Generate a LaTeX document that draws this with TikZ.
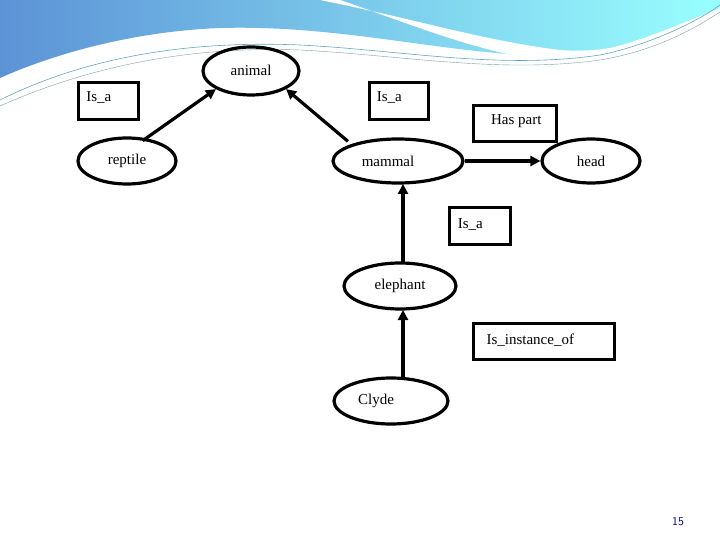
\documentclass[tikz,border=0pt]{standalone}
\usepackage{fontspec}
\setmainfont{Liberation Serif}
\usetikzlibrary{arrows.meta,shapes.geometric}
\begin{document}
\begin{tikzpicture}[x=1pt,y=-1pt,
  ell/.style={draw,line width=3.2pt,ellipse,minimum width=#1,minimum height=46pt,inner sep=0pt,font=\fontsize{15}{17}\selectfont},
  ell/.default=98pt,
  lbl/.style={draw,line width=3pt,rectangle,anchor=north west,font=\fontsize{15}{17}\selectfont,inner sep=0pt,align=left},
  arr/.style={line width=3.2pt,-{Triangle[length=10pt,width=10pt]}}]
\useasboundingbox (0,0) rectangle (720,540);
\fill[white] (0,0) rectangle (720,540);
% top decoration
\shade[left color=cyan!45!blue!60!gray!80, right color=cyan!40] (0,0) -- (720,0) -- (720,8)
  .. controls (640,40) and (600,60) .. (520,55)
  .. controls (420,48) and (330,25) .. (220,28)
  .. controls (120,32) and (40,60) .. (0,78) -- cycle;
\fill[white] (320,0) .. controls (420,20) and (480,40) .. (560,50)
  .. controls (620,55) and (680,30) .. (720,20) -- (720,30)
  .. controls (660,58) and (600,65) .. (540,60)
  .. controls (470,50) and (400,20) .. (340,0) -- cycle;
\draw[cyan!50!gray,line width=0.6pt] (0,100) .. controls (80,60) and (180,40) .. (300,45) .. controls (400,50) and (500,70) .. (600,55) .. controls (650,45) and (700,20) .. (720,5);
\draw[cyan!30!gray,line width=0.4pt] (0,106) .. controls (90,66) and (190,46) .. (300,50) .. controls (400,55) and (500,74) .. (600,60) .. controls (660,50) and (700,25) .. (720,12);
% nodes
\node[ell=96pt,minimum height=48pt] (animal) at (251,71) {\raisebox{2pt}{animal}};
\node[ell] (reptile) at (127,161) {reptile};
\node[ell=130pt,minimum height=44pt] (mammal) at (398,161) {\hspace*{-20pt}mammal};
\node[ell,minimum height=44pt] (head) at (591,161) {head};
\node[ell=112pt] (elephant) at (400,286) {elephant};
\node[ell=114pt] (clyde) at (391,401) {\hspace*{-30pt}Clyde};
\node[lbl,minimum width=60pt,minimum height=37pt] (b1) at (77,81) {\raisebox{8pt}{\,Is\_a\hspace{22pt}}};
\node[lbl,minimum width=59pt,minimum height=37pt] (b2) at (368,81) {\raisebox{8pt}{\,Is\_a\hspace{22pt}}};
\node[lbl,minimum width=83pt,minimum height=36pt] (b3) at (472,104) {\raisebox{8pt}{\,Has part}};
\node[lbl,minimum width=61pt,minimum height=37pt] (b4) at (448,206) {\raisebox{4pt}{\,Is\_a\hspace{22pt}}};
\node[lbl,minimum width=141pt,minimum height=36pt] (b5) at (472,322) {\raisebox{4pt}{\,Is\_instance\_of\hspace{30pt}}};
\node[font=\sffamily\fontsize{12}{14}\selectfont,text=blue!60!black] (pg) at (678,522) {15};
% connectors
\path (reptile.north east) ++(-20,-3) coordinate (r1);
\draw[arr] (r1) -- (animal.south west);
\path (mammal.north west) ++(-3,-3) coordinate (m1);
\draw[arr] (m1) -- (animal.south east);
\draw[arr] (mammal.east) -- (head.west);
\coordinate (mtop) at (403,184);
\draw[arr] (403,263) coordinate (etop) -- (mtop);
\draw[arr] (403,378) coordinate (ctop) -- (403,310);
\end{tikzpicture}
\end{document}
